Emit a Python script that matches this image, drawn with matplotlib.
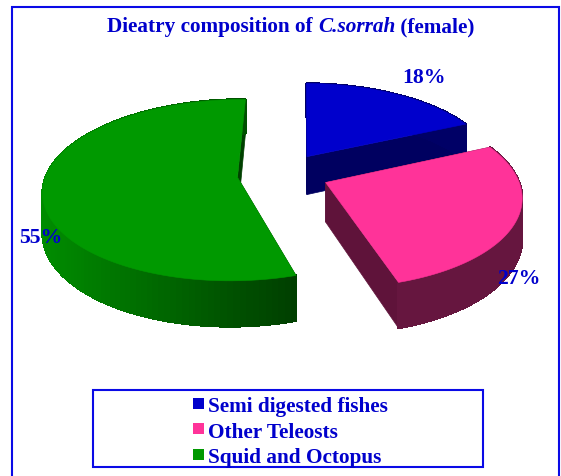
import numpy as np
import matplotlib
matplotlib.use("Agg")
import matplotlib.pyplot as plt
from matplotlib.patches import Polygon, Rectangle

# Data
categories = ["Semi digested fishes", "Other Teleosts", "Squid and Octopus"]
values = [18, 27, 55]
value_labels = ["18%", "27%", "55%"]

TEXT_COLOR = "#0000CC"
FRAME_COLOR = "#0A0AE6"
top_colors = ["#0000CC", "#FF3399", "#009900"]
side_light = ["#000066", "#66163F", "#008C00"]
side_dark = ["#000066", "#66163F", "#003F00"]
face_colors = ["#000060", "#5F133A", "#004000"]

# Fake 3D geometry, in pixels
CX, CY = 283, 175
RX, RY = 191, 88
PERSP = 0.14
EXPLODE = 0.24
DEPTH = 39
ROTATE = np.radians(0.8)

plt.rcParams["font.family"] = ["Liberation Serif", "DejaVu Serif"]
plt.rcParams["font.weight"] = "bold"

fig = plt.figure(figsize=(5.61, 4.77), dpi=100)
ax = fig.add_axes([0, 0, 1, 1])
ax.set_xlim(0, 561)
ax.set_ylim(477, 0)
ax.axis("off")


def project(x, y, drop=0.0):
    # x, y are on the pie plane, y pointing away from the viewer
    s = 1 / (1 + PERSP * y)
    return CX + RX * x * s, CY - RY * y * s + drop * s


def hex_mix(c1, c2, t):
    a = np.array(matplotlib.colors.to_rgb(c1))
    b = np.array(matplotlib.colors.to_rgb(c2))
    return tuple(a + (b - a) * t)


def draw_slice(start, end, idx):
    # angles are clockwise from twelve o'clock, in radians
    mid = (start + end) / 2
    ox, oy = EXPLODE * np.sin(mid), EXPLODE * np.cos(mid)
    th = np.linspace(start, end, 120) + ROTATE
    px = ox + np.sin(th)
    py = oy + np.cos(th)

    apex = project(ox, oy)
    apex_low = project(ox, oy, DEPTH)
    top_x, top_y = project(px, py)
    low_x, low_y = project(px, py, DEPTH)

    # cut faces
    for k in (0, -1):
        pts = [apex, (top_x[k], top_y[k]), (low_x[k], low_y[k]), apex_low]
        ax.add_patch(Polygon(pts, closed=True, fc=face_colors[idx], ec=face_colors[idx], lw=0.5))

    # outer wall, shaded left to right
    span = max(top_x.max() - top_x.min(), 1)
    for i in range(len(th) - 1):
        t = (top_x[i] - top_x.min()) / span
        col = hex_mix(side_light[idx], side_dark[idx], t)
        pts = [(top_x[i], top_y[i]), (top_x[i + 1], top_y[i + 1]),
               (low_x[i + 1], low_y[i + 1]), (low_x[i], low_y[i])]
        ax.add_patch(Polygon(pts, closed=True, fc=col, ec=col, lw=1.0, antialiased=False))

    # top surface
    pts = [apex] + list(zip(top_x, top_y))
    ax.add_patch(Polygon(pts, closed=True, fc=top_colors[idx], ec=top_colors[idx], lw=0.4))


fracs = np.cumsum([0] + values) / sum(values) * 2 * np.pi
for i in range(len(values)):
    draw_slice(fracs[i], fracs[i + 1], i)

# Outer frame, runs off the bottom of the image
ax.plot([12.5, 12.5, 559, 559], [477, 7.5, 7.5, 477], color=FRAME_COLOR, lw=1.5, solid_joinstyle="miter")

# Title, three pieces because of the italic species name
t1 = ax.text(107, 32, "Dieatry composition of ", fontsize=15.3, color=TEXT_COLOR, ha="left", va="baseline")
t2 = ax.annotate("C.sorrah", xy=(1, 0), xycoords=t1, fontsize=15.3, color=TEXT_COLOR,
                 style="italic", ha="left", va="bottom")
ax.annotate(" (female)", xy=(1, 0), xycoords=t2, fontsize=15.3, color=TEXT_COLOR, ha="left", va="bottom")

# Percent labels
label_pos = [(424, 78), (519, 279), (41, 238)]
for txt, (lx, ly) in zip(value_labels, label_pos):
    ax.text(lx, ly, txt, fontsize=15.7, color=TEXT_COLOR, ha="center", va="center")

# Legend box
ax.add_patch(Rectangle((93.5, 391), 389.5, 77, fc="white", ec=FRAME_COLOR, lw=1.5))
legend_y = [412, 438, 463]
square_y = [399, 424, 450]
for name, col, ly, sy in zip(categories, top_colors, legend_y, square_y):
    ax.add_patch(Rectangle((193.5, sy), 10.5, 11, fc=col, ec="none"))
    ax.text(208.5, ly, name, fontsize=15.3, color=TEXT_COLOR, ha="left", va="baseline")

fig.savefig("out.png", dpi=100, facecolor="white")
